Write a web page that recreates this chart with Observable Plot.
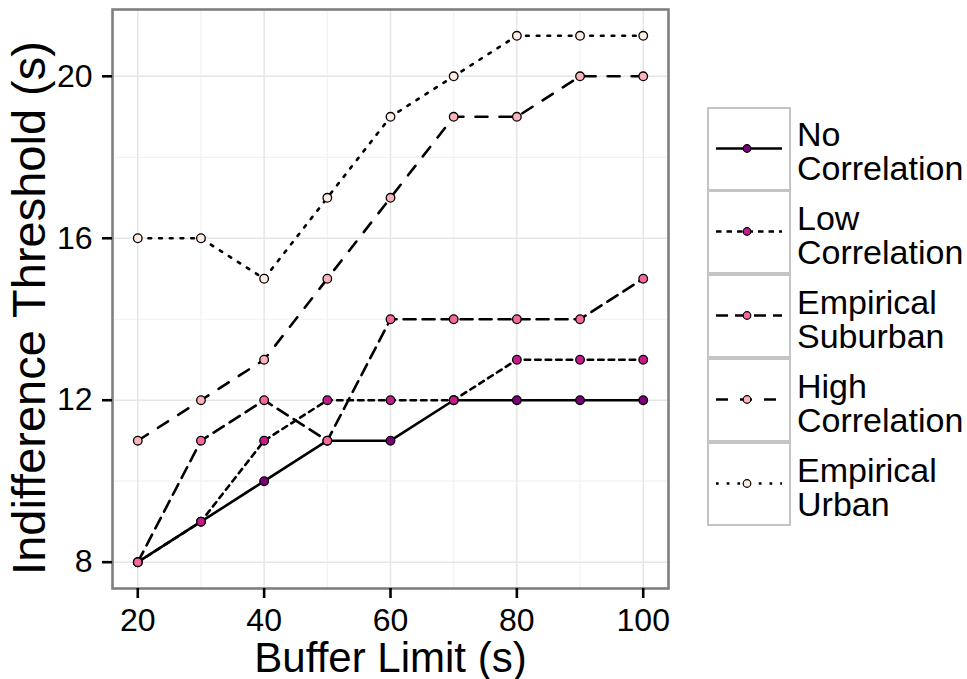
<!DOCTYPE html>
<html>
<head>
<meta charset="utf-8">
<script src="https://cdn.jsdelivr.net/npm/d3@7"></script>
<script src="https://cdn.jsdelivr.net/npm/@observablehq/plot@0.6"></script>
<style>
  html, body { margin: 0; padding: 0; background: #fff; }
  #wrap { position: relative; width: 967px; height: 679px; font-family: "Liberation Sans", Arial, sans-serif; }
  #legend { position: absolute; left: 707px; top: 107px; }
  .row { display: flex; align-items: center; height: 84px; }
  .key { width: 84px; height: 84px; box-sizing: border-box; border: 2.5px solid #c4c4c4; margin-top: -2.5px; }
  .row:first-child .key { margin-top: 0; }
  .lab { font-size: 34px; line-height: 34px; margin-left: 6px; padding-top: 4px; color: #000; white-space: nowrap; }
</style>
</head>
<body>
<div id="wrap"></div>
<script>
// ---- data ----
const bufferLimit = [20, 30, 40, 50, 60, 70, 80, 90, 100];
const noCorrelation = [8, 9, 10, 11, 11, 12, 12, 12, 12];
const lowCorrelation = [8, 9, 11, 12, 12, 12, 13, 13, 13];
const empiricalSuburban = [8, 11, 12, 11, 14, 14, 14, 14, 15];
const highCorrelation = [11, 12, 13, 15, 17, 19, 19, 20, 20];
const empiricalUrban = [16, 16, 15, 17, 19, 20, 21, 21, 21];
const seriesNames = ["No Correlation", "Low Correlation", "Empirical Suburban", "High Correlation", "Empirical Urban"];
const legendLines = [["No", "Correlation"], ["Low", "Correlation"], ["Empirical", "Suburban"], ["High", "Correlation"], ["Empirical", "Urban"]];
const xTicks = [20, 40, 60, 80, 100];
const xMinor = [30, 50, 70, 90];
const yTicks = [8, 12, 16, 20];
const yMinor = [10, 14, 18];

// ---- styles ----
const colors = ["#7a0177", "#c51b8a", "#f768a1", "#fbb4b9", "#feebe2"];
const dashes = [null, "5.5,5", "12,7", "12,12", "2.7,8"];

const valuesBySeries = [noCorrelation, lowCorrelation, empiricalSuburban, highCorrelation, empiricalUrban];
const series = seriesNames.map((name, i) => ({
  name,
  rows: bufferLimit.map((x, j) => ({ x, y: valuesBySeries[i][j] }))
}));

const marks = [
  Plot.gridX(xMinor, { stroke: "#f2f2f2", strokeOpacity: 1, strokeWidth: 1.2 }),
  Plot.gridY(yMinor, { stroke: "#f2f2f2", strokeOpacity: 1, strokeWidth: 1.2 }),
  Plot.gridX(xTicks, { stroke: "#e6e6e6", strokeOpacity: 1, strokeWidth: 1.5 }),
  Plot.gridY(yTicks, { stroke: "#e6e6e6", strokeOpacity: 1, strokeWidth: 1.5 })
];
series.forEach((s, i) => {
  marks.push(Plot.line(s.rows, { x: "x", y: "y", stroke: "black", strokeWidth: 2.6, strokeDasharray: dashes[i] || undefined }));
});
series.forEach((s, i) => {
  marks.push(Plot.dot(s.rows, { x: "x", y: "y", r: 4.3, fill: colors[i], stroke: "black", strokeWidth: 1.3 }));
});
marks.push(
  Plot.frame({ stroke: "#7f7f7f", strokeWidth: 2.6 }),
  Plot.axisX({ ticks: xTicks, tickSize: 10, tickPadding: 10, fontSize: 32, strokeWidth: 2.6, label: null }),
  Plot.axisY({ ticks: yTicks, tickSize: 10, tickPadding: 10, fontSize: 32, strokeWidth: 2.6, label: null }),
  Plot.text(["Buffer Limit (s)"], { frameAnchor: "bottom", dy: 83, fontSize: 42, fill: "black" }),
  Plot.text(["Indifference Threshold (s)"], { frameAnchor: "left", textAnchor: "middle", lineAnchor: "middle", dx: -83, dy: 9, rotate: -90, fontSize: 47, fill: "black" })
);

const chart = Plot.plot({
  width: 967,
  height: 679,
  marginLeft: 112,
  marginRight: 299,
  marginTop: 9,
  marginBottom: 91,
  x: { domain: [16, 104] },
  y: { domain: [7.35, 21.65] },
  style: { fontFamily: "Liberation Sans, Arial, sans-serif", background: "white", color: "black" },
  marks
});
const wrap = document.getElementById("wrap");
wrap.appendChild(chart);

// ---- legend ----
const legend = d3.select(wrap).append("div").attr("id", "legend");
seriesNames.forEach((name, i) => {
  const row = legend.append("div").attr("class", "row");
  const key = row.append("div").attr("class", "key");
  const svg = key.append("svg").attr("width", 79).attr("height", 79).style("display", "block");
  const cy = 39.5;
  svg.append("line").attr("x1", 7).attr("x2", 73).attr("y1", cy).attr("y2", cy)
    .attr("stroke", "black").attr("stroke-width", 2.5)
    .attr("stroke-dasharray", dashes[i] || null);
  svg.append("circle").attr("cx", 38).attr("cy", cy).attr("r", 3.8)
    .attr("fill", colors[i]).attr("stroke", "black").attr("stroke-width", 1.2);
  const lab = row.append("div").attr("class", "lab");
  legendLines[i].forEach(t => lab.append("div").text(t));
});
</script>
</body>
</html>
